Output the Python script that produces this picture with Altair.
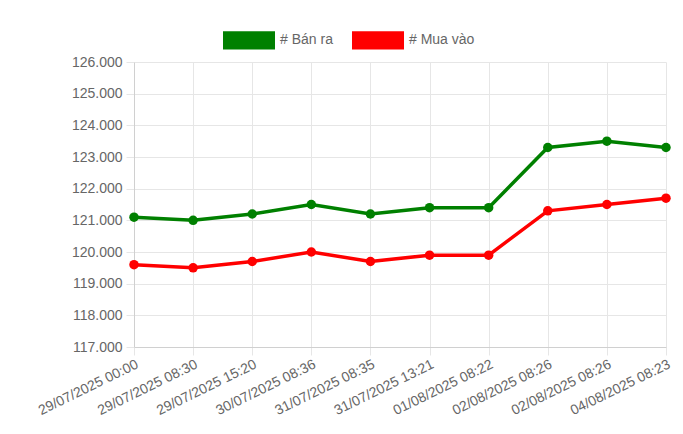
import altair as alt
import pandas as pd

dates = ["29/07/2025 00:00", "29/07/2025 08:30", "29/07/2025 15:20", "30/07/2025 08:36",
         "31/07/2025 08:35", "31/07/2025 13:21", "01/08/2025 08:22", "02/08/2025 08:26",
         "02/08/2025 08:26 ", "04/08/2025 08:23"]
ban_ra = [121100, 121000, 121200, 121500, 121200, 121400, 121400, 123300, 123500, 123300]
mua_vao = [119600, 119500, 119700, 120000, 119700, 119900, 119900, 121300, 121500, 121700]
series = ["# Bán ra", "# Mua vào"]
colors = ["#008000", "#ff0000"]
y_ticks = list(range(117000, 127000, 1000))

rows = []
for i, d in enumerate(dates):
    rows.append({"date": d, "idx": i, "series": series[0], "value": ban_ra[i]})
    rows.append({"date": d, "idx": i, "series": series[1], "value": mua_vao[i]})
df = pd.DataFrame(rows)

font = "Liberation Sans"

x_enc = alt.X("date:O", sort=dates, title=None,
              scale=alt.Scale(type="point", padding=0),
              axis=alt.Axis(labelAngle=-26, labelAlign="right", labelBaseline="top",
                            labelFontSize=14, labelColor="#666666", labelFont=font,
                            labelExpr="trim(datum.label)",
                            grid=True, gridColor="#e6e6e6", domainColor="#d0d0d0",
                            tickColor="#e6e6e6", tickSize=8, labelPadding=2))
y_enc = alt.Y("value:Q", title=None,
              scale=alt.Scale(domain=[117000, 126000], nice=False, zero=False),
              axis=alt.Axis(values=y_ticks, labelExpr="replace(format(datum.value, ','), ',', '.')",
                            labelFontSize=14, labelColor="#666666", labelFont=font,
                            grid=True, gridColor="#e6e6e6", domainColor="#d0d0d0",
                            tickColor="#e6e6e6", tickSize=8, labelPadding=4))
color_enc = alt.Color("series:N", sort=series,
                      scale=alt.Scale(domain=series, range=colors),
                      legend=alt.Legend(title=None, orient="none", direction="horizontal",
                                        legendX=89, legendY=-48,
                                        symbolType="M-1,-0.35H1V0.35H-1Z", symbolSize=2704,
                                        symbolStrokeWidth=0, symbolOpacity=1,
                                        labelFontSize=14, labelColor="#666666", labelFont=font,
                                        columnPadding=19, symbolOffset=0, labelOffset=5))

base = alt.Chart(df).encode(x=x_enc, y=y_enc, color=color_enc)
lines = base.mark_line(strokeWidth=3.5)
points = base.mark_point(filled=True, size=90, opacity=1, shape="circle")

chart = (lines + points).properties(
    width=532, height=285,
    autosize=alt.AutoSizeParams(type="none"),
    padding={"left": 126, "top": 54, "right": 7, "bottom": 78},
).configure_view(stroke=None)

chart.save("out.html", embed_options={"renderer": "svg", "actions": False})
